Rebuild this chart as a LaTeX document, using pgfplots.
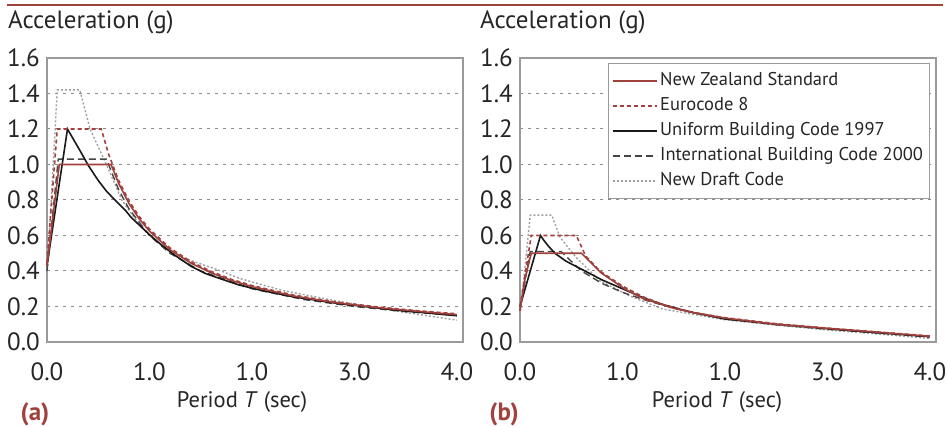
\documentclass[border=0pt]{standalone}
\usepackage{fontspec}
\setmainfont{PT Sans}
\usepackage{pgfplots}
\pgfplotsset{compat=1.18}
\definecolor{nzred}{HTML}{A0413D}
\definecolor{bordgray}{HTML}{9A9A9A}
\definecolor{gridgray}{HTML}{8A8A8A}
\definecolor{ibcgray}{HTML}{444444}
\definecolor{draftgray}{HTML}{A0A0A0}
\pgfplotsset{
  myax/.style={
    width=416pt, height=284pt, scale only axis,
    xmin=0, xmax=4.06, ymin=0, ymax=1.6,
    xtick={0,1,2,3,4}, xticklabels={0.0,1.0,1.0,3.0,4.0},
    ytick={0,0.2,0.4,0.6,0.8,1.0,1.2,1.4,1.6},
    yticklabels={0.0,0.2,0.4,0.6,0.8,1.0,1.2,1.4,1.6},
    major tick length=0pt,
    ymajorgrids,
    grid style={gridgray, line width=1pt, dash pattern=on 3pt off 5pt},
    axis line style={bordgray, line width=1.5pt},
    tick label style={font=\fontsize{25}{25}\selectfont, text=black!85},
    yticklabel style={anchor=east, inner sep=0pt, xshift=-7pt},
    xticklabel style={anchor=north, inner sep=0pt, yshift=-20pt},
    clip=false,
    legend cell align=left,
    legend image code/.code={\draw[##1] (0pt,0pt) -- (44pt,0pt);},
  },
  nz/.style={nzred, line width=1.6pt},
  ec/.style={nzred, line width=1.6pt, dash pattern=on 4pt off 3pt},
  ubc/.style={black!90, line width=1.6pt},
  ibc/.style={ibcgray, line width=1.4pt, dash pattern=on 7pt off 4pt},
  dr/.style={draftgray, line width=1.4pt, dash pattern=on 2pt off 2pt},
}
\begin{document}
\begin{tikzpicture}[x=1pt,y=1pt]
\useasboundingbox (0,0) rectangle (947,-427);
\draw[nzred, line width=2pt] (7,-5) -- (943,-5);

\begin{axis}[myax, at={(47pt,-342pt)}, anchor=south west]
\addplot[dr] coordinates {(0,0.36) (0.1,1.42) (0.32,1.42) (0.42,1.2) (0.58,1.0) (0.73,0.8) (0.89,0.67) (1.0,0.6) (1.2,0.51) (1.4,0.46) (1.7,0.40) (1.87,0.36) (2.3,0.29) (2.84,0.23) (3.4,0.175) (4.0,0.123)};
\addplot[ibc] coordinates {(0,0.40) (0.11,1.03) (0.58,1.03) (0.7,0.857) (0.8,0.75) (1.0,0.60) (1.2,0.50) (1.5,0.40) (2.0,0.30) (2.5,0.24) (3.0,0.20) (3.5,0.171) (4.0,0.15)};
\addplot[ubc] coordinates {(0,0.43) (0.2,1.2) (0.23,1.17) (0.26,1.14) (0.33,1.07) (0.405,0.993) (0.5,0.91) (0.58,0.85) (0.68,0.79) (0.76,0.745) (0.825,0.70) (0.99,0.61) (1.1,0.555) (1.245,0.49) (1.41,0.425) (1.55,0.385) (1.70,0.355) (1.87,0.322) (2.1,0.29) (2.4,0.255) (2.84,0.217) (3.4,0.18) (4.0,0.148)};
\addplot[ec] coordinates {(0,0.45) (0.1,1.2) (0.53,1.2) (0.6,1.06) (0.7,0.909) (0.8,0.795) (0.9,0.707) (1.0,0.636) (1.2,0.53) (1.4,0.454) (1.6,0.398) (1.8,0.353) (2.0,0.318) (2.4,0.265) (2.8,0.227) (3.2,0.199) (3.6,0.177) (4.0,0.159)};
\addplot[nz] coordinates {(0,0.43) (0.12,1.0) (0.625,1.0) (0.7,0.893) (0.8,0.78) (0.9,0.694) (1.0,0.625) (1.2,0.52) (1.4,0.446) (1.6,0.39) (1.8,0.347) (2.0,0.312) (2.4,0.26) (2.8,0.223) (3.2,0.195) (3.6,0.174) (4.0,0.154)};
\end{axis}

\begin{axis}[myax, at={(520pt,-342pt)}, anchor=south west,
  legend style={at={(1,1)}, anchor=north east, xshift=-6pt, yshift=-5pt,
    draw=bordgray, line width=1pt, fill=white,
    font=\fontsize{18.5}{18.5}\selectfont, text=black!85,
    inner xsep=4pt, inner ysep=5pt, row sep=0pt,
    nodes={inner sep=2.5pt, text height=14.5pt, text depth=5.5pt}},
  reverse legend]
\addplot[dr] coordinates {(0,0.15) (0.1,0.715) (0.31,0.715) (0.39,0.59) (0.55,0.475) (0.78,0.345) (1.07,0.26) (1.39,0.186) (2.0,0.125) (2.5,0.095) (3.0,0.068) (3.5,0.045) (4.0,0.02)};
\addlegendentry{New Draft Code}
\addplot[ibc] coordinates {(0,0.18) (0.1,0.51) (0.4,0.51) (0.6,0.40) (0.8,0.33) (1.0,0.28) (1.2,0.24) (1.5,0.19) (2.0,0.13) (2.5,0.097) (3.0,0.072) (3.5,0.05) (4.0,0.028)};
\addlegendentry{International Building Code 2000}
\addplot[ubc] coordinates {(0,0.2) (0.2,0.60) (0.23,0.575) (0.27,0.545) (0.34,0.50) (0.45,0.455) (0.6,0.41) (0.8,0.35) (1.0,0.30) (1.2,0.25) (1.4,0.21) (1.65,0.17) (2.0,0.13) (2.5,0.10) (3.0,0.075) (3.5,0.052) (4.0,0.03)};
\addlegendentry{Uniform Building Code 1997}
\addplot[ec] coordinates {(0,0.2) (0.11,0.6) (0.55,0.6) (0.64,0.485) (0.78,0.40) (1.0,0.315) (1.2,0.255) (1.4,0.21) (1.7,0.165) (2.0,0.137) (2.5,0.103) (3.0,0.078) (3.5,0.056) (4.0,0.034)};
\addlegendentry{Eurocode 8}
\addplot[nz] coordinates {(0,0.175) (0.05,0.36) (0.11,0.50) (0.60,0.50) (0.79,0.39) (1.02,0.30) (1.2,0.245) (1.5,0.19) (1.7,0.165) (2.0,0.135) (2.5,0.10) (3.0,0.077) (3.5,0.055) (4.0,0.032)};
\addlegendentry{New Zealand Standard}
\end{axis}

\node[anchor=west, inner sep=0pt, font=\fontsize{25}{25}\selectfont, text=black!85] at (8,-22) {Acceleration (g)};
\node[anchor=west, inner sep=0pt, font=\fontsize{25}{25}\selectfont, text=black!85] at (480,-22) {Acceleration (g)};
\node[inner sep=0pt, font=\fontsize{22.5}{22.5}\selectfont, text=black!85] at (242,-402) {Period \textit{T} (sec)};
\node[inner sep=0pt, font=\fontsize{22.5}{22.5}\selectfont, text=black!85] at (717,-402) {Period \textit{T} (sec)};
\node[inner sep=0pt, font=\fontsize{25}{25}\selectfont\bfseries, text=nzred] at (35,-414) {(a)};
\node[inner sep=0pt, font=\fontsize{25}{25}\selectfont\bfseries, text=nzred] at (504,-414) {(b)};
\end{tikzpicture}
\end{document}
